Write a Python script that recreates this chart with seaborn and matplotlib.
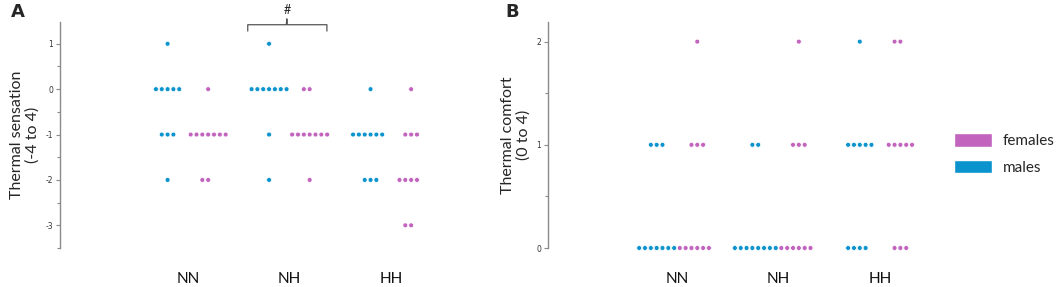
import pandas as pd
import matplotlib.pyplot as plt
import seaborn as sns
from matplotlib.patches import Patch

conditions = ['NN', 'NH', 'HH']

# thermal sensation scores, one list per condition (NN, NH, HH)
sensation_males = [
    [1, 0, 0, 0, 0, 0, -1, -1, -1, -2],
    [1, 0, 0, 0, 0, 0, 0, 0, -1, -2],
    [0, -1, -1, -1, -1, -1, -1, -2, -2, -2],
]
sensation_females = [
    [0, -1, -1, -1, -1, -1, -1, -1, -2, -2],
    [0, 0, -1, -1, -1, -1, -1, -1, -1, -2],
    [0, -1, -1, -1, -2, -2, -2, -2, -3, -3],
]

# thermal comfort scores
comfort_males = [
    [1, 1, 1, 0, 0, 0, 0, 0, 0, 0],
    [1, 1, 0, 0, 0, 0, 0, 0, 0, 0],
    [2, 1, 1, 1, 1, 1, 0, 0, 0, 0],
]
comfort_females = [
    [2, 1, 1, 1, 0, 0, 0, 0, 0, 0],
    [2, 1, 1, 1, 0, 0, 0, 0, 0, 0],
    [2, 2, 1, 1, 1, 1, 1, 0, 0, 0],
]

sexes = ['males', 'females']
colors = {'males': '#0A93CD', 'females': '#C263BE'}


def to_frame(males, females):
    rows = []
    for cond, m, f in zip(conditions, males, females):
        rows += [[cond, 'males', v] for v in m]
        rows += [[cond, 'females', v] for v in f]
    return pd.DataFrame(rows, columns=['condition', 'sex', 'score'])


df_a = to_frame(sensation_males, sensation_females)
df_b = to_frame(comfort_males, comfort_females)

sns.set_style('white')
plt.rcParams['font.family'] = ['Lato', 'DejaVu Sans']

W, H = 1059, 287
fig = plt.figure(figsize=(W / 100, H / 100), dpi=100)
ax_a = fig.add_axes([60 / W, 39 / H, 410 / W, 226 / H])
ax_b = fig.add_axes([548 / W, 39 / H, 392 / W, 226 / H])

for ax, df in [(ax_a, df_a), (ax_b, df_b)]:
    sns.swarmplot(data=df, x='condition', y='score', hue='sex', order=conditions,
                  hue_order=sexes, palette=colors, dodge=True, size=3.5,
                  edgecolor='white', linewidth=0.5, legend=False, ax=ax,
                  clip_on=False, warn_thresh=1)
    ax.set_xlabel('')
    for s in ['top', 'right', 'bottom']:
        ax.spines[s].set_visible(False)
    ax.spines['left'].set_color('#8a8a8a')
    ax.spines['left'].set_linewidth(1)
    ax.tick_params(axis='x', length=0, pad=17, labelsize=11, labelcolor='#111111')
    ax.tick_params(axis='y', which='major', left=True, length=3, width=0.8,
                   color='#8a8a8a', pad=2, labelsize=5.5, labelcolor='#333333')
    ax.tick_params(axis='y', which='minor', left=True, length=2, width=0.8,
                   color='#8a8a8a')

# panel A
ax_a.set_xlim(-1.26, 2.78)
ax_a.set_ylim(-3.48, 1.48)
ax_a.set_yticks([-3, -2, -1, 0, 1])
ax_a.set_yticks([-3.5, -2.5, -1.5, -0.5, 0.5], minor=True)
ax_a.set_yticklabels(['-3', '-2', '-1', '0', '1'], family='DejaVu Sans')
ax_a.set_ylabel('Thermal sensation\n(-4 to 4)', fontsize=11.5, linespacing=1.1)
ax_a.yaxis.set_label_coords(-0.05, 0.5)

# bracket over NH
bx = [0.59, 0.59, 0.97, 0.975, 0.98, 1.37, 1.37]
by = [1.28, 1.42, 1.42, 1.55, 1.42, 1.42, 1.28]
ax_a.plot(bx, by, color='#555555', lw=0.9, clip_on=False)
ax_a.text(0.975, 1.62, '#', ha='center', va='bottom', fontsize=9, color='#222222')

# panel B
ax_b.set_xlim(-1.27, 2.59)
ax_b.set_ylim(0, 2.19)
ax_b.set_yticks([0, 1, 2])
ax_b.set_yticks([0.5, 1.5], minor=True)
ax_b.set_yticklabels(['0', '1', '2'], family='DejaVu Sans')
ax_b.set_ylabel('Thermal comfort\n(0 to 4)', fontsize=11.5, linespacing=1.1)
ax_b.yaxis.set_label_coords(-0.045, 0.5)

fig.text(18 / W, 1 - 12 / H, 'A', fontsize=13, fontweight='bold', ha='center', va='center',
         family='DejaVu Sans')
fig.text(512 / W, 1 - 12 / H, 'B', fontsize=13, fontweight='bold', ha='center', va='center',
         family='DejaVu Sans')

handles = [Patch(facecolor=colors['females'], label='females'),
           Patch(facecolor=colors['males'], label='males')]
fig.legend(handles=handles, loc='center left', bbox_to_anchor=(940 / W, 1 - 154 / H),
           frameon=False, fontsize=11, handlelength=2.5, handleheight=1.0,
           handletextpad=0.7, labelspacing=0.75)

fig.savefig('out.png', dpi=100)
